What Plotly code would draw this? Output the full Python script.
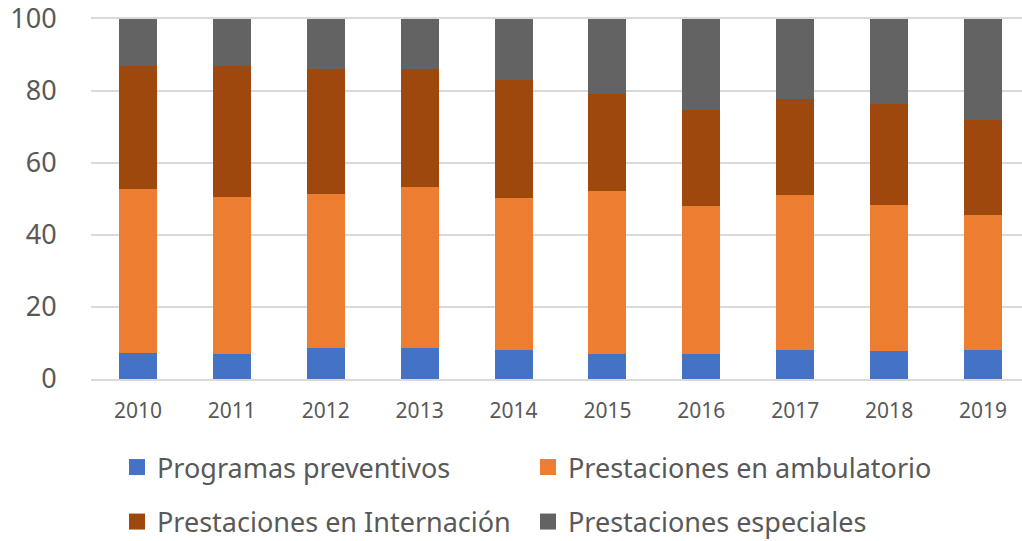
import plotly.graph_objects as go

years = ["2010", "2011", "2012", "2013", "2014", "2015", "2016", "2017", "2018", "2019"]
programas_preventivos = [7.3, 7.0, 8.5, 8.7, 8.1, 7.0, 7.0, 8.0, 7.8, 8.1]
prestaciones_ambulatorio = [45.6, 43.5, 42.8, 44.5, 42.3, 45.3, 41.1, 43.1, 40.6, 37.5]
prestaciones_internacion = [34.1, 36.5, 34.9, 33.0, 32.6, 27.0, 26.7, 26.6, 28.1, 26.3]
prestaciones_especiales = [13.0, 13.0, 13.8, 13.8, 17.0, 20.7, 25.2, 22.3, 23.5, 28.1]
y_ticks = [0, 20, 40, 60, 80, 100]

names = ["Programas preventivos", "Prestaciones en ambulatorio",
         "Prestaciones en Internación", "Prestaciones especiales"]
colors = ["#4472C4", "#ED7D31", "#9E480E", "#636363"]
series = [programas_preventivos, prestaciones_ambulatorio,
          prestaciones_internacion, prestaciones_especiales]
legend_ids = ["legend", "legend", "legend2", "legend2"]

FONT = "Noto Sans"
TXT = "#595959"
GRID = "#D9D9D9"

fig = go.Figure()
for name, col, vals in zip(names, colors, series):
    fig.add_trace(go.Bar(x=years, y=vals, name=name, marker=dict(color=col, line=dict(width=0)),
                         showlegend=False))
for name, col, lg in zip(names, colors, legend_ids):
    fig.add_trace(go.Scatter(x=[None], y=[None], mode="markers", name=name, legend=lg,
                             marker=dict(symbol="square", size=16, color=col)))

leg_common = dict(orientation="h", xref="container", yref="container",
                  xanchor="left", yanchor="middle", entrywidth=366, traceorder="normal",
                  font=dict(family=FONT, size=27, color=TXT),
                  bgcolor="rgba(0,0,0,0)", itemwidth=30)

fig.update_layout(
    width=1022, height=541,
    margin=dict(l=91, r=0, t=19, b=162, autoexpand=False),
    barmode="stack", bargap=0.595,
    plot_bgcolor="white", paper_bgcolor="white",
    font=dict(family=FONT, color=TXT),
    legend=dict(x=117/1022, y=1 - 467.5/541, **leg_common),
    legend2=dict(x=117/1022, y=1 - 522/541, **leg_common),
    xaxis=dict(type="category", range=[-0.5, 9.415], showgrid=False,
               ticks="outside", ticklen=12, tickcolor="rgba(0,0,0,0)",
               tickfont=dict(family=FONT, size=21, color=TXT),
               showline=True, mirror=True, linecolor=GRID, linewidth=1.5,
               zeroline=False, automargin=False),
    yaxis=dict(range=[0, 100], tickvals=y_ticks, showgrid=True, gridcolor=GRID, gridwidth=1.5,
               tickfont=dict(family=FONT, size=27, color=TXT), ticklabeloverflow="allow",
               ticks="outside", ticklen=28, tickcolor="rgba(0,0,0,0)",
               zeroline=False, showline=False, automargin=False),
)

fig.write_html("out.html", config={"displayModeBar": False},
               post_script="document.body.style.margin='0';")
